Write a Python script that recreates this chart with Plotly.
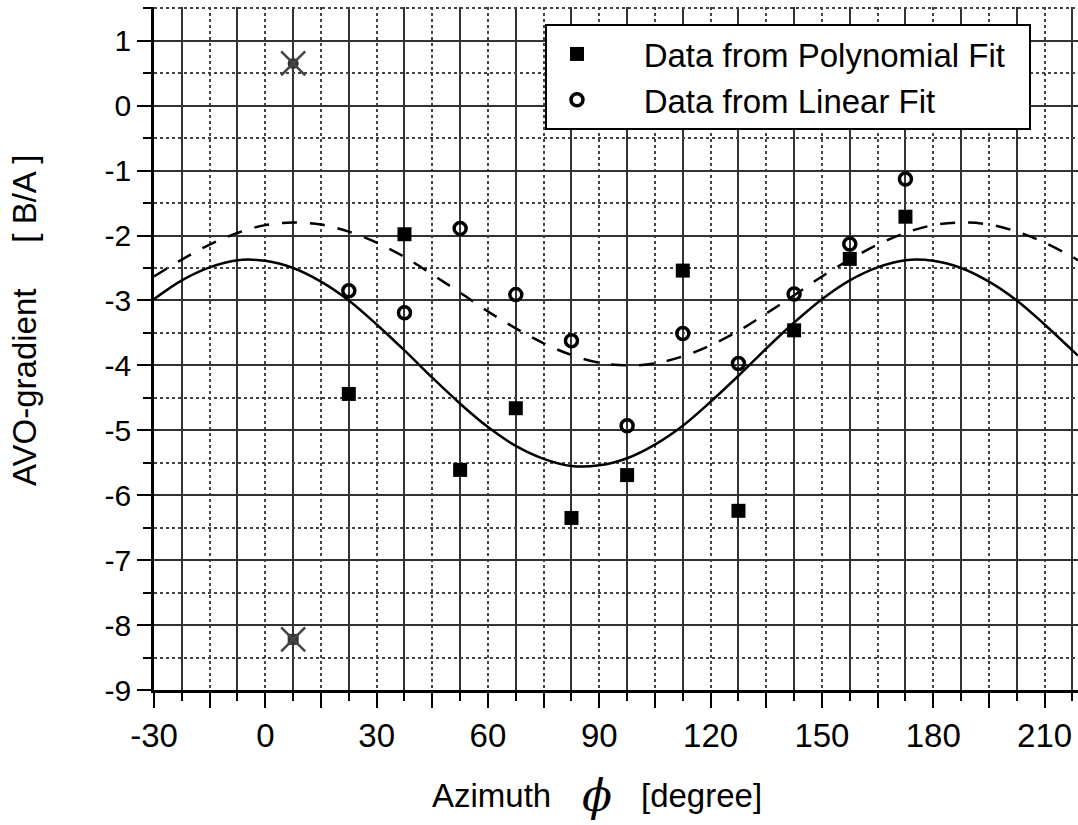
import plotly.graph_objs as go

# azimuth of the measured points (degree)
azimuth = [22.5, 37.5, 52.5, 67.5, 82.5, 97.5, 112.5, 127.5, 142.5, 157.5, 172.5]
poly_fit = [-4.44, -1.98, -5.61, -4.66, -6.35, -5.69, -2.54, -6.24, -3.46, -2.36, -1.71]
linear_fit = [-2.85, -3.19, -1.89, -2.91, -3.62, -4.93, -3.51, -3.97, -2.90, -2.13, -1.13]

# points that were crossed out
outlier_x = [7.5, 7.5]
outlier_y = [0.65, -8.22]

# fitted curves
curve_x = [-30, -22.5, -15, -7.5, 0, 7.5, 15, 22.5, 30, 37.5, 45, 52.5, 60, 67.5, 75, 82.5,
           90, 97.5, 105, 112.5, 120, 127.5, 135, 142.5, 150, 157.5, 165, 172.5, 180,
           187.5, 195, 202.5, 210, 217.5, 219]
solid_curve = [-2.98, -2.69, -2.49, -2.38, -2.39, -2.50, -2.71, -3.00, -3.37, -3.77, -4.19,
               -4.59, -4.95, -5.24, -5.44, -5.55, -5.54, -5.43, -5.22, -4.93, -4.56, -4.16,
               -3.74, -3.34, -2.98, -2.69, -2.49, -2.38, -2.39, -2.50, -2.71, -3.00, -3.37,
               -3.77, -3.85]
dashed_curve = [-2.63, -2.37, -2.14, -1.96, -1.84, -1.80, -1.83, -1.94, -2.11, -2.33, -2.60,
                -2.88, -3.17, -3.43, -3.66, -3.84, -3.96, -4.00, -3.97, -3.86, -3.69, -3.47,
                -3.20, -2.92, -2.63, -2.37, -2.14, -1.96, -1.84, -1.80, -1.83, -1.94, -2.11,
                -2.33, -2.38]

x_ticks = [-30, -15, 0, 15, 30, 45, 60, 75, 90, 105, 120, 135, 150, 165, 180, 195, 210]
x_labels = ['-30', '', '0', '', '30', '', '60', '', '90', '', '120', '', '150', '', '180', '', '210']
y_ticks = [-9, -8, -7, -6, -5, -4, -3, -2, -1, 0, 1]
y_labels = ['-9', '-8', '-7', '-6', '-5', '-4', '-3', '-2', '-1', '0', '1']

FONT = 'Liberation Sans, Arial, sans-serif'
NB = '\u00a0'

# plot area in pixels
L, R, T, B = 154, 1078, 7, 690
W, H = R - L, B - T


def px(x, y):
    # pixel position -> paper coords
    return (x - L) / W, (B - y) / H


solid = go.Scatter(x=curve_x, y=solid_curve, mode='lines', line_shape='spline',
                   line=dict(color='black', width=2.5), showlegend=False, hoverinfo='skip')
dashed = go.Scatter(x=curve_x, y=dashed_curve, mode='lines', line_shape='spline',
                    line=dict(color='black', width=2.5, dash='15px,13px'),
                    showlegend=False, hoverinfo='skip')

poly = go.Scatter(x=azimuth, y=poly_fit, mode='markers',
                  name=NB * 4 + 'Data from Polynomial Fit' + NB * 2,
                  marker=dict(symbol='square', size=14, color='black'))
lin = go.Scatter(x=azimuth, y=linear_fit, mode='markers',
                 name=NB * 4 + 'Data from Linear Fit',
                 marker=dict(symbol='circle-open', size=12, color='black',
                             line=dict(width=3.5, color='black')))

outl = go.Scatter(x=outlier_x, y=outlier_y, mode='markers', showlegend=False,
                  marker=dict(symbol=['circle', 'square'], size=11, color='#333'))
cross = go.Scatter(x=outlier_x, y=outlier_y, mode='markers', showlegend=False,
                   marker=dict(symbol='x-thin-open', size=24, color='#444',
                               line=dict(width=2.5, color='#444')))

lx, ly = px(545, 24)
yt_x, yt_y = px(25, 321)
az_x, az_y = px(553, 795)
phi_x, _ = px(597, 795)
deg_x, _ = px(639, 795)

layout = go.Layout(
    width=1078, height=825,
    margin=dict(l=L, r=1078 - R, t=T, b=825 - B),
    paper_bgcolor='white', plot_bgcolor='white',
    font=dict(family=FONT, color='black'),
    showlegend=True,
    legend=dict(x=lx, y=ly, xanchor='left', yanchor='top',
                bgcolor='white', bordercolor='black', borderwidth=2,
                font=dict(size=33, family=FONT), itemwidth=50,
                tracegroupgap=0),
    xaxis=dict(
        range=[-30, 219], tickmode='array', tickvals=x_ticks, ticktext=x_labels,
        automargin=False,
        ticks='outside', ticklen=15, tickwidth=2, tickcolor='black',
        tickfont=dict(size=33, family=FONT),
        showline=True, linecolor='black', linewidth=2.5,
        showgrid=True, gridcolor='#444', gridwidth=1.5, griddash='3px,3px',
        zeroline=False,
        minor=dict(tickmode='linear', tick0=-22.5, dtick=15, ticks='outside', ticklen=8,
                   tickwidth=2, tickcolor='black', showgrid=True, gridcolor='#333',
                   gridwidth=1.5, griddash='solid'),
    ),
    yaxis=dict(
        range=[-9, 1.52], tickmode='array', tickvals=y_ticks, ticktext=y_labels,
        automargin=False,
        ticks='outside', ticklen=14, tickwidth=2, tickcolor='black',
        tickfont=dict(size=30, family=FONT),
        showline=True, linecolor='black', linewidth=2.5,
        showgrid=True, gridcolor='#333', gridwidth=1.5,
        zeroline=False,
        minor=dict(tickmode='linear', tick0=-0.5, dtick=1, ticks='outside', ticklen=8,
                   tickwidth=2, tickcolor='black', showgrid=True, gridcolor='#444',
                   gridwidth=1.5, griddash='3px,3px'),
    ),
    annotations=[
        dict(text='AVO-gradient' + NB * 5 + '[ B/A ]', textangle=-90,
             xref='paper', yref='paper', x=yt_x, y=yt_y,
             xanchor='center', yanchor='middle', showarrow=False,
             font=dict(size=33, family=FONT)),
        dict(text='Azimuth', xref='paper', yref='paper', x=az_x, y=az_y,
             xanchor='right', yanchor='middle', showarrow=False,
             font=dict(size=33, family=FONT)),
        dict(text=NB + '<i>\u03d5</i>' + NB, xref='paper', yref='paper', x=phi_x, y=az_y,
             xanchor='center', yanchor='middle', showarrow=False, height=56,
             font=dict(size=44, family='DejaVu Serif')),
        dict(text='[degree]', xref='paper', yref='paper', x=deg_x, y=az_y,
             xanchor='left', yanchor='middle', showarrow=False,
             font=dict(size=33, family=FONT)),
    ],
)

fig = go.Figure(data=[solid, dashed, poly, lin, outl, cross], layout=layout)
# the page body has a default 8px margin, drop it so the figure fills the window
fig.write_html("out.html", config={'displayModeBar': False},
               post_script="document.body.style.margin='0';")
